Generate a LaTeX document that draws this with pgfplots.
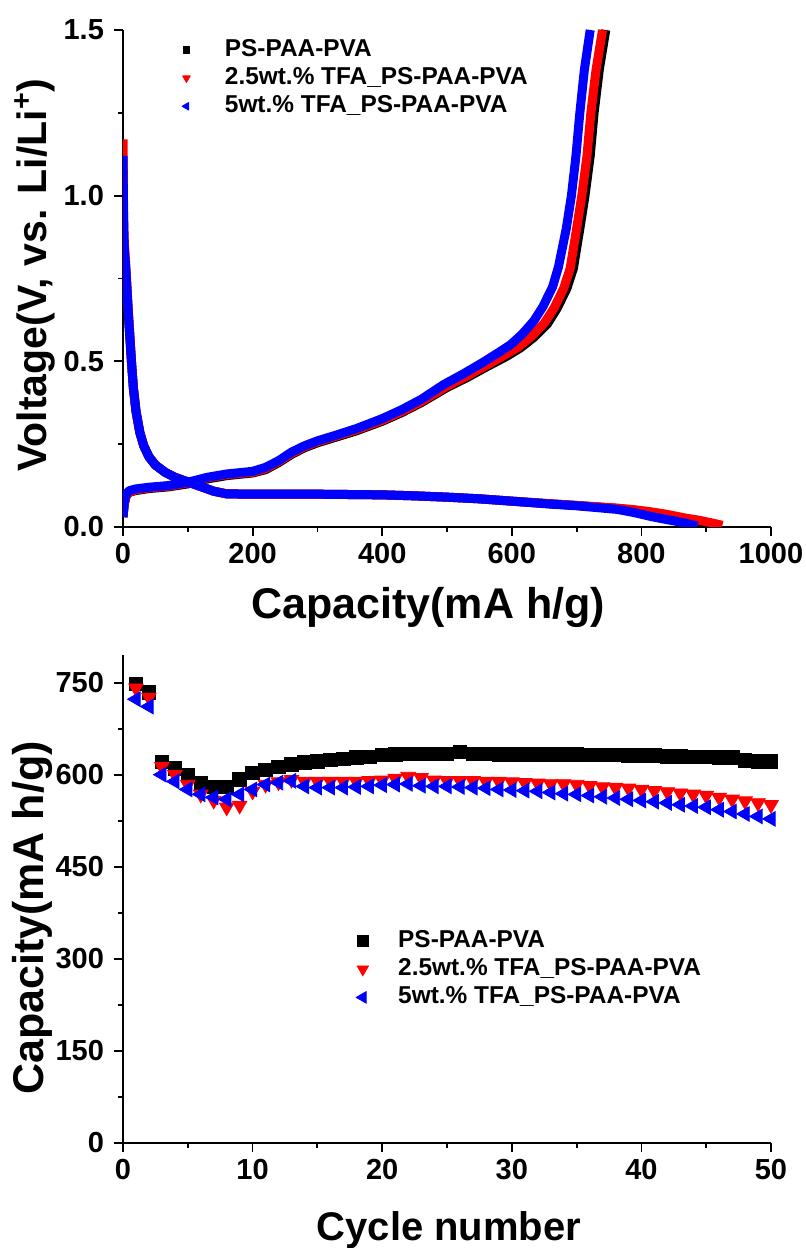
\documentclass[border=0pt]{standalone}
\usepackage{fontspec}
\setmainfont{Liberation Sans}
\usepackage{pgfplots}
\pgfplotsset{compat=1.18}
\newcommand\ticklabelfont{\bfseries\fontsize{14.5}{15}\selectfont}
\newcommand\labelfont{\bfseries\fontsize{20}{21}\selectfont}
\newcommand\caplabelfont{\bfseries\fontsize{21.5}{22}\selectfont}
\newcommand\legendfont{\bfseries\fontsize{12.2}{13}\selectfont}
\pgfplotsset{
  mystyle/.style={
    scale only axis, width=324pt,
    axis x line=bottom, axis y line=left,
    axis line style={-, line width=0.9pt},
    tick align=outside, major tick length=4.5pt, minor tick length=2.5pt,
    every tick/.style={black, line width=0.9pt},
    every minor tick/.style={black, line width=0.9pt},
    tick label style={font=\ticklabelfont},
    yticklabel style={xshift=-1.5pt},
    /pgf/number format/assume math mode=true,
    /pgf/number format/1000 sep={},
    label style={font=\labelfont},
    legend cell align=left,
    legend style={draw=none, fill=none, inner sep=0pt, font=\legendfont,
      nodes={inner sep=1pt, text height=8.8pt, text depth=2.5pt},
      /tikz/row sep=0.8pt},
  }
}
\begin{document}
\begin{tikzpicture}
\useasboundingbox (0pt,0pt) rectangle (403pt,624pt);
% ---------------- top: voltage profile ----------------
\begin{axis}[mystyle, at={(61.5pt,360.5pt)}, anchor=south west, height=248.5pt,
  xmin=0, xmax=1000, ymin=0, ymax=1.5,
  xtick={0,200,...,1000}, minor x tick num=1,
  ytick={0,0.5,1,1.5}, minor y tick num=1,
  yticklabel style={/pgf/number format/.cd, fixed, fixed zerofill, precision=1},
  xlabel={Capacity(mA h/g)}, ylabel={Voltage(V, vs. Li/Li\textsuperscript{+})},
  xlabel style={at={(axis description cs:0.471,-0.161)}, anchor=center, font=\caplabelfont},
  ylabel style={at={(axis description cs:-0.1358,0.507)}, anchor=center, font=\bfseries\fontsize{20.5}{21}\selectfont},
  legend style={at={(axis description cs:0.078,0.9875)}, anchor=north west},
]
% black
\addplot[black, line width=4.5pt, line join=round,
  legend image code/.code={\path (-4pt,0pt) (16pt,0pt);
    \draw[black, fill=black, line width=0.4pt, mark=square*, mark size=1.6pt] plot coordinates {(0pt,0pt)};}]
coordinates {(0,1.08)(1,0.88)(2,0.82)(4,0.78)(6,0.72)(8,0.65)(10,0.59)(13,0.5)(16,0.42)(20,0.35)(26,0.285)(32,0.245)(40,0.212)(50,0.187)(65,0.165)(80,0.15)(100,0.136)(120,0.122)(140,0.108)(160,0.1)(200,0.099)(300,0.099)(400,0.097)(450,0.094)(500,0.09)(550,0.085)(600,0.078)(660,0.07)(700,0.065)(763,0.056)(814,0.044)(865,0.026)(895,0.015)(912,0.005)};
\addlegendentry{PS-PAA-PVA}
\addplot[black, line width=4.5pt, line join=round, forget plot]
coordinates {(0,0.03)(2,0.07)(5,0.095)(10,0.105)(20,0.11)(40,0.116)(70,0.121)(100,0.13)(130,0.145)(160,0.155)(200,0.163)(220,0.173)(240,0.194)(260,0.219)(280,0.239)(300,0.254)(330,0.272)(360,0.29)(400,0.319)(430,0.345)(460,0.375)(500,0.421)(530,0.45)(560,0.482)(592,0.515)(613,0.54)(634,0.572)(655,0.613)(670,0.66)(685,0.72)(695,0.78)(705,0.90)(713,1.0)(721,1.12)(727,1.25)(735,1.38)(745,1.5)};
% red
\addplot[red, line width=4.5pt, line join=round,
  legend image code/.code={\path (-4pt,0pt) (16pt,0pt);
    \draw[red, fill=red, line width=0.4pt, mark=triangle*, mark size=2.2pt, mark options={rotate=180}] plot coordinates {(0pt,0pt)};}]
coordinates {(0,1.17)(1,0.93)(2,0.86)(4,0.8)(6,0.73)(8,0.66)(10,0.6)(13,0.5)(16,0.42)(20,0.35)(26,0.285)(32,0.245)(40,0.212)(50,0.187)(65,0.165)(80,0.15)(100,0.136)(120,0.122)(140,0.108)(160,0.1)(200,0.099)(300,0.099)(400,0.097)(450,0.094)(500,0.09)(550,0.085)(600,0.078)(660,0.07)(700,0.065)(763,0.057)(790,0.052)(814,0.046)(840,0.038)(865,0.028)(890,0.02)(907,0.013)(925,0.005)};
\addlegendentry{2.5wt.\% TFA\_PS-PAA-PVA}
\addplot[red, line width=4.5pt, line join=round, forget plot]
coordinates {(0,0.03)(2,0.07)(5,0.095)(10,0.105)(20,0.112)(40,0.118)(70,0.123)(100,0.133)(130,0.148)(160,0.158)(200,0.165)(220,0.176)(240,0.197)(260,0.222)(280,0.242)(300,0.257)(330,0.275)(360,0.293)(400,0.322)(430,0.348)(460,0.378)(500,0.425)(530,0.455)(560,0.487)(590,0.52)(610,0.543)(630,0.575)(650,0.615)(665,0.66)(680,0.72)(690,0.78)(700,0.90)(708,1.0)(716,1.12)(722,1.25)(730,1.38)(740,1.5)};
% blue
\addplot[blue, line width=4.5pt, line join=round,
  legend image code/.code={\path (-4pt,0pt) (16pt,0pt);
    \draw[blue, fill=blue, line width=0.4pt, mark=triangle*, mark size=2.2pt, mark options={rotate=90}] plot coordinates {(0pt,0pt)};}]
coordinates {(0,1.12)(1,0.9)(2,0.84)(4,0.79)(6,0.72)(8,0.65)(10,0.59)(13,0.5)(16,0.42)(20,0.35)(26,0.285)(32,0.245)(40,0.212)(50,0.187)(65,0.165)(80,0.15)(100,0.136)(120,0.122)(140,0.108)(160,0.1)(200,0.099)(300,0.099)(400,0.097)(450,0.094)(500,0.09)(550,0.085)(600,0.078)(660,0.069)(700,0.064)(763,0.053)(790,0.043)(814,0.032)(840,0.022)(865,0.013)(886,0.003)};
\addlegendentry{5wt.\% TFA\_PS-PAA-PVA}
\addplot[blue, line width=4.5pt, line join=round, forget plot]
coordinates {(0,0.03)(2,0.075)(5,0.1)(10,0.11)(20,0.115)(40,0.12)(70,0.125)(100,0.135)(130,0.15)(160,0.16)(200,0.168)(220,0.18)(240,0.2)(260,0.226)(280,0.245)(300,0.26)(330,0.278)(360,0.297)(400,0.327)(430,0.354)(460,0.385)(495,0.43)(525,0.462)(553,0.494)(580,0.527)(598,0.55)(616,0.582)(634,0.622)(648,0.665)(663,0.725)(672,0.785)(684,0.90)(692,1.0)(699,1.12)(705,1.25)(712,1.38)(721,1.5)};
\end{axis}
% ---------------- bottom: cycling ----------------
\begin{axis}[mystyle, at={(61.5pt,52.5pt)}, anchor=south west, height=244pt,
  xmin=0, xmax=50, ymin=0, ymax=795, clip=false,
  xtick={0,10,...,50}, minor x tick num=1,
  ytick={0,150,...,750}, minor y tick num=1,
  xlabel={Cycle number}, ylabel={Capacity(mA h/g)},
  xlabel style={at={(axis description cs:0.503,-0.178)}, anchor=center},
  ylabel style={at={(axis description cs:-0.139,0.461)}, anchor=center, font=\caplabelfont},
  legend style={at={(axis description cs:0.3565,0.442)}, anchor=north west},
]
\addplot[only marks, mark=square*, mark size=3.4pt, black, fill=black,
  legend image code/.code={\path (-4pt,0pt) (16.5pt,0pt);
    \draw[black, fill=black, mark=square*, mark size=2.7pt] plot coordinates {(0pt,0pt)};}]
coordinates {(1,748)(2,734)(3,621)(4,610)(5,599)(6,586)(7,580)(8,580)(9,592)(10,603)(11,608)(12,613)(13,617)(14,620)(15,622)(16,624)(17,626)(18,628)(19,629)(20,632)(21,633)(22,634)(23,634)(24,634)(25,634)(26,637)(27,634)(28,634)(29,633)(30,633)(31,633)(32,633)(33,633)(34,633)(35,633)(36,632)(37,632)(38,632)(39,631)(40,631)(41,631)(42,630)(43,630)(44,629)(45,629)(46,628)(47,628)(48,623)(49,622)(50,622)};
\addlegendentry{PS-PAA-PVA}
\addplot[only marks, mark=triangle*, mark size=4.2pt, red, fill=red, mark options={rotate=180},
  legend image code/.code={\path (-4pt,0pt) (16.5pt,0pt);
    \draw[red, fill=red, mark=triangle*, mark size=3.3pt, mark options={rotate=180}] plot coordinates {(0pt,0pt)};}]
coordinates {(1,741)(2,726)(3,613)(4,600)(5,584)(6,568)(7,558)(8,547)(9,550)(10,573)(11,584)(12,588)(13,592)(14,589)(15,589)(16,589)(17,589)(18,589)(19,590)(20,591)(21,594)(22,597)(23,595)(24,591)(25,590)(26,590)(27,590)(28,589)(29,589)(30,588)(31,587)(32,586)(33,585)(34,585)(35,584)(36,582)(37,580)(38,579)(39,578)(40,576)(41,574)(42,572)(43,570)(44,568)(45,566)(46,563)(47,560)(48,557)(49,554)(50,551)};
\addlegendentry{2.5wt.\% TFA\_PS-PAA-PVA}
\addplot[only marks, mark=triangle*, mark size=4.2pt, blue, fill=blue, mark options={rotate=90},
  legend image code/.code={\path (-4pt,0pt) (16.5pt,0pt);
    \draw[blue, fill=blue, mark=triangle*, mark size=3.3pt, mark options={rotate=90}] plot coordinates {(0pt,0pt)};}]
coordinates {(1,723)(2,711)(3,600)(4,589)(5,576)(6,568)(7,563)(8,560)(9,568)(10,576)(11,584)(12,587)(13,590)(14,581)(15,579)(16,579)(17,579)(18,580)(19,581)(20,583)(21,584)(22,585)(23,582)(24,581)(25,581)(26,580)(27,579)(28,578)(29,576)(30,575)(31,574)(32,573)(33,571)(34,569)(35,568)(36,566)(37,564)(38,562)(39,560)(40,558)(41,556)(42,554)(43,551)(44,549)(45,547)(46,543)(47,540)(48,536)(49,532)(50,528)};
\addlegendentry{5wt.\% TFA\_PS-PAA-PVA}
\end{axis}
\end{tikzpicture}
\end{document}
